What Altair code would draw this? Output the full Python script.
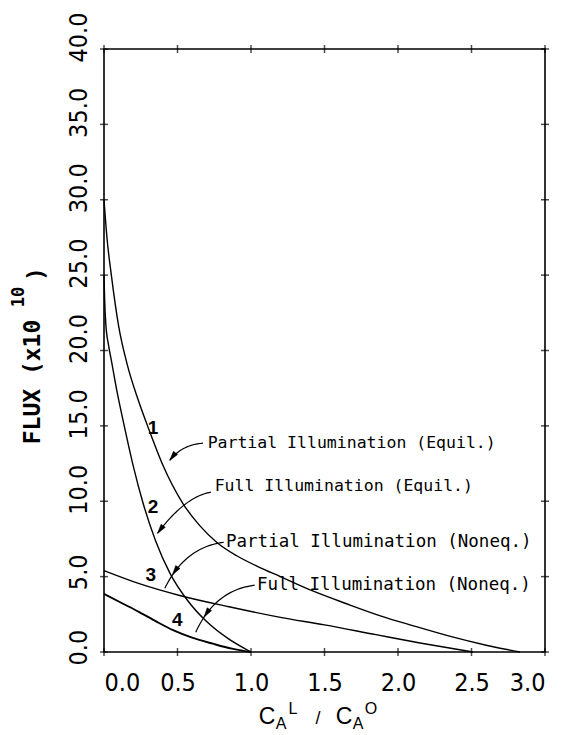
import math

import altair as alt
import pandas as pd

# ---- curves: flux (x 10^10) against the concentration ratio c_A^L / c_A^O ----
c1_x = [0.0, 0.02, 0.05, 0.10, 0.16, 0.23, 0.30, 0.40, 0.54, 0.65, 0.77, 0.90, 1.05, 1.2, 1.42, 1.65, 1.88, 2.1, 2.35, 2.6, 2.83]
c1_y = [30.0, 27.5, 25.0, 21.6, 19.0, 16.8, 14.9, 12.4, 9.8, 8.4, 7.25, 6.4, 5.65, 5.0, 4.05, 3.2, 2.4, 1.75, 1.05, 0.45, 0.0]

c2_x = [0.0, 0.004, 0.012, 0.03, 0.05, 0.09, 0.14, 0.20, 0.265, 0.35, 0.45, 0.57, 0.70, 0.85, 1.0]
c2_y = [25.0, 23.5, 21.8, 20.4, 19.35, 17.2, 14.9, 12.3, 9.9, 7.4, 5.2, 3.4, 2.0, 0.85, 0.0]

c3_x = [0.0, 0.25, 0.515, 0.85, 1.2, 1.5, 1.85, 2.15, 2.51]
c3_y = [5.4, 4.5, 3.75, 3.0, 2.3, 1.8, 1.15, 0.6, 0.0]

c4_x = [0.0, 0.12, 0.24, 0.36, 0.47, 0.60, 0.74, 0.87, 1.0]
c4_y = [3.85, 3.25, 2.65, 2.0, 1.45, 0.95, 0.55, 0.22, 0.0]

curve_ids = ["1", "2", "3", "4"]
curve_widths = [1.4, 1.4, 1.4, 1.9]

# curve number labels
num_x = [0.333, 0.333, 0.318, 0.498]
num_y = [14.83, 9.62, 5.09, 2.10]

# annotations naming each case
ann_text = [
    "Partial Illumination (Equil.)",
    "Full Illumination (Equil.)",
    "Partial Illumination (Noneq.)",
    "Full Illumination (Noneq.)",
]
ann_x = [0.705, 0.753, 0.83, 1.04]
ann_y = [13.85, 11.0, 7.3, 4.43]
ann_size = [16.5, 16.5, 17.5, 17.5]

# leader arrows: start, bend (control) and end points, plus where the head sits (0..1)
arr_start = [(0.673, 13.85), (0.727, 10.6), (0.815, 7.28), (1.025, 4.43)]
arr_ctrl = [(0.53, 13.75), (0.55, 10.3), (0.55, 6.95), (0.754, 4.1)]
arr_end = [(0.448, 12.72), (0.365, 7.88), (0.414, 4.23), (0.624, 1.31)]
arr_head_t = [1.0, 1.0, 0.82, 0.80]

x_ticks = [0.0, 0.5, 1.0, 1.5, 2.0, 2.5, 3.0]
y_ticks = [0, 5, 10, 15, 20, 25, 30, 35, 40]

# ---- layout ----
W, H = 441, 603
X_DOM, Y_DOM = [0, 3.0], [0, 40.0]
PX_PER_X = W / (X_DOM[1] - X_DOM[0])
PX_PER_Y = H / (Y_DOM[1] - Y_DOM[0])

xs = alt.Scale(domain=X_DOM, nice=False, zero=False)
ys = alt.Scale(domain=Y_DOM, nice=False, zero=False)

TICK_FONT = "Liberation Sans Narrow, DejaVu Sans Condensed, Liberation Sans"
MONO = "DejaVu Sans Mono"

# curves
rows = []
for cid, w, xv, yv in zip(curve_ids, curve_widths, [c1_x, c2_x, c3_x, c4_x], [c1_y, c2_y, c3_y, c4_y]):
    for i, (a, b) in enumerate(zip(xv, yv)):
        rows.append({"x": a, "y": b, "curve": cid, "i": i, "w": w})
curves_df = pd.DataFrame(rows)

curves = alt.Chart(curves_df).mark_line(color="black", interpolate="monotone").encode(
    x=alt.X("x:Q", scale=xs, axis=alt.Axis(values=x_ticks, format=".1f", title=None,
                                              labelPadding=18, labelFontSize=25, labelFont=TICK_FONT)),
    y=alt.Y("y:Q", scale=ys, axis=alt.Axis(values=y_ticks, format=".1f", title=None,
                                              labelAngle=270, labelAlign="left", labelBaseline="bottom",
                                              labelOffset=13, labelPadding=13,
                                              labelFontSize=25, labelFont=TICK_FONT)),
    detail="curve:N",
    order="i:Q",
    size=alt.Size("w:Q", scale=None, legend=None),
)

# cross-shaped tick marks on all four sides of the frame
xt_df = pd.DataFrame([{"x": v, "y": e} for v in x_ticks for e in Y_DOM])
yt_df = pd.DataFrame([{"x": e, "y": v} for v in y_ticks for e in X_DOM])
xt = alt.Chart(xt_df).mark_tick(orient="vertical", size=8, thickness=1.5, color="black").encode(
    x=alt.X("x:Q", scale=xs), y=alt.Y("y:Q", scale=ys))
yt = alt.Chart(yt_df).mark_tick(orient="horizontal", size=8, thickness=1.5, color="black").encode(
    x=alt.X("x:Q", scale=xs), y=alt.Y("y:Q", scale=ys))

# curve numbers
nums = alt.Chart(pd.DataFrame({"x": num_x, "y": num_y, "t": curve_ids})).mark_text(
    font="Liberation Sans", fontSize=19, fontWeight="bold", color="black"
).encode(x=alt.X("x:Q", scale=xs), y=alt.Y("y:Q", scale=ys), text="t:N")

# annotation texts
anns = alt.Chart(pd.DataFrame({"x": ann_x, "y": ann_y, "t": ann_text, "s": ann_size})).mark_text(
    font=MONO, align="left", baseline="middle", color="black"
).encode(x=alt.X("x:Q", scale=xs), y=alt.Y("y:Q", scale=ys), text="t:N",
         size=alt.Size("s:Q", scale=None, legend=None))


# curved leader arrows (quadratic Bezier through the control point)
def bez(p0, p1, p2, t):
    a = (1 - t) ** 2
    b = 2 * (1 - t) * t
    c = t ** 2
    return (a * p0[0] + b * p1[0] + c * p2[0], a * p0[1] + b * p1[1] + c * p2[1])


def bez_d(p0, p1, p2, t):
    return (2 * (1 - t) * (p1[0] - p0[0]) + 2 * t * (p2[0] - p1[0]),
            2 * (1 - t) * (p1[1] - p0[1]) + 2 * t * (p2[1] - p1[1]))


arr_rows, head_rows = [], []
for k, (p0, p1, p2, th) in enumerate(zip(arr_start, arr_ctrl, arr_end, arr_head_t)):
    n = 30
    for j in range(n + 1):
        px, py = bez(p0, p1, p2, j / n)
        arr_rows.append({"x": px, "y": py, "a": k, "i": j})
    dx, dy = bez_d(p0, p1, p2, th)
    sx, sy = dx * PX_PER_X, -dy * PX_PER_Y  # screen direction
    ln = math.hypot(sx, sy)
    ux, uy = sx / ln, sy / ln
    hx, hy = bez(p0, p1, p2, th)
    back = 4.5  # pull symbol centre back so its tip lands on the point
    cx = hx - ux * back / PX_PER_X
    cy = hy + uy * back / PX_PER_Y
    ang = math.degrees(math.atan2(ux, -uy)) % 360
    head_rows.append({"x": cx, "y": cy, "ang": ang})

# arrowhead glyph pointing up before rotation
HEAD_PATH = "M0,-1L0.55,1L-0.55,1Z"

arrows = alt.Chart(pd.DataFrame(arr_rows)).mark_line(color="black", strokeWidth=1.2).encode(
    x=alt.X("x:Q", scale=xs), y=alt.Y("y:Q", scale=ys), detail="a:N", order="i:Q")
heads = alt.Chart(pd.DataFrame(head_rows)).mark_point(
    shape=HEAD_PATH, filled=True, fill="black", stroke="black", strokeWidth=0.5, size=90, opacity=1
).encode(x=alt.X("x:Q", scale=xs), y=alt.Y("y:Q", scale=ys),
         angle=alt.Angle("ang:Q", scale=None))


# axis titles built from pieces so sub/superscripts sit where they should
def piece(text, px, py, size, angle=0, weight="normal", font="Liberation Sans"):
    return alt.Chart(pd.DataFrame({"t": [text]})).mark_text(
        font=font, fontSize=size, fontWeight=weight, angle=angle,
        align="center", baseline="middle", color="black"
    ).encode(x=alt.value(px), y=alt.value(py), text="t:N")


y_title = [
    piece("FLUX (x10", -71, 333, 23, 270, "bold", MONO),
    piece("10", -85, 248, 17, 270, "bold", MONO),
    piece(")", -67, 225, 23, 270, "bold", MONO),
]
x_title = [
    piece("C", 163, 668, 23),
    piece("A", 177, 675, 16),
    piece("L", 189, 660, 16),
    piece("/", 214, 670, 18),
    piece("C", 240, 668, 23),
    piece("A", 254, 675, 16),
    piece("O", 267, 660, 16),
]

chart = alt.layer(curves, xt, yt, arrows, heads, nums, anns, *y_title, *x_title).properties(
    width=W, height=H,
    autosize=alt.AutoSizeParams(type="none"),
    padding={"left": 104, "top": 49, "right": 23, "bottom": 83},
    background="white",
).configure_view(
    stroke="black", strokeWidth=1.6
).configure_axis(
    grid=False, domain=False, ticks=False, labelColor="black"
)

chart.save("out.html", embed_options={"renderer": "svg", "actions": False})
